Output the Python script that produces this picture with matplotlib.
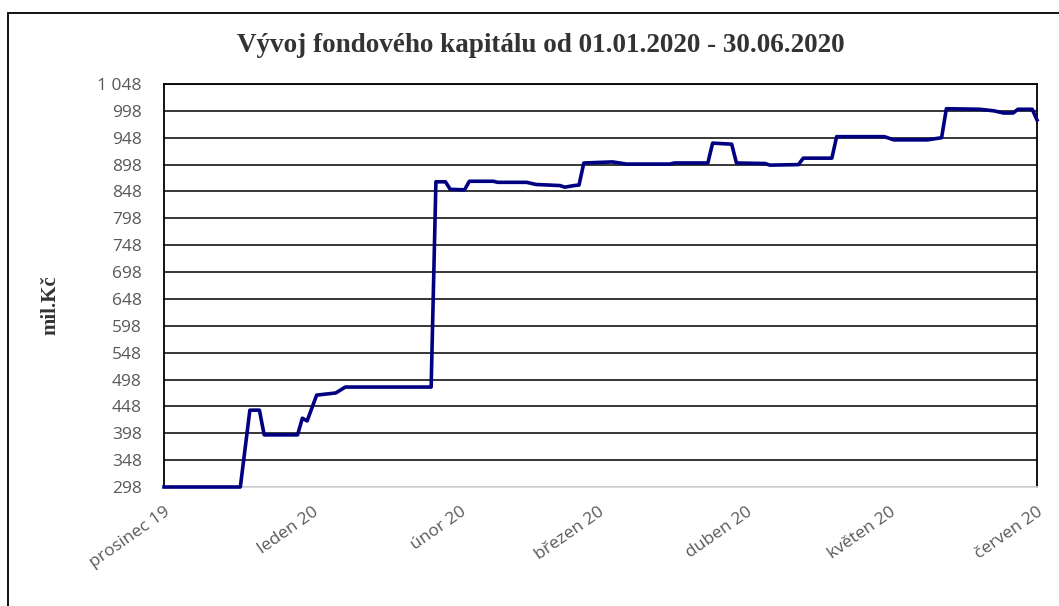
import datetime as dt
import matplotlib
matplotlib.use("Agg")
import matplotlib.pyplot as plt
from matplotlib.patches import Rectangle

# fund capital (mil. Kč), breakpoints of the daily series
dates = [
    "2019-12-01", "2019-12-17", "2019-12-19", "2019-12-21", "2019-12-22",
    "2019-12-29", "2019-12-30", "2019-12-31", "2020-01-02", "2020-01-06",
    "2020-01-08", "2020-01-26", "2020-01-27", "2020-01-29", "2020-01-30",
    "2020-02-02", "2020-02-03", "2020-02-08", "2020-02-09", "2020-02-15",
    "2020-02-17", "2020-02-22", "2020-02-23", "2020-02-25", "2020-02-26",
    "2020-02-27", "2020-03-04", "2020-03-07", "2020-03-16", "2020-03-17",
    "2020-03-24", "2020-03-25", "2020-03-29", "2020-03-30", "2020-04-05",
    "2020-04-06", "2020-04-12", "2020-04-13", "2020-04-19", "2020-04-20",
    "2020-04-30", "2020-05-02", "2020-05-09", "2020-05-12", "2020-05-13",
    "2020-05-20", "2020-05-23", "2020-05-25", "2020-05-27", "2020-05-28",
    "2020-05-31", "2020-06-01",
]
values = [
    298, 298, 441, 441, 395,
    395, 426, 421, 469, 473,
    484, 484, 866, 866, 852,
    851, 867, 867, 865, 865,
    861, 859, 856, 859, 860,
    901, 903, 899, 899, 901,
    901, 938, 936, 901, 900,
    897, 898, 910, 910, 950,
    950, 944, 944, 948, 1002,
    1001, 998, 994, 994, 1001,
    1001, 981,
]

month_ticks = ["2019-12-01", "2020-01-01", "2020-02-01", "2020-03-01",
               "2020-04-01", "2020-05-01", "2020-06-01"]
month_labels = ["prosinec 19", "leden 20", "únor 20", "březen 20",
                "duben 20", "květen 20", "červen 20"]
y_ticks = list(range(298, 1049, 50))
y_labels = [f"{v:,}".replace(",", " ") for v in y_ticks]

x = [dt.datetime.strptime(d, "%Y-%m-%d") for d in dates]
xt = [dt.datetime.strptime(d, "%Y-%m-%d") for d in month_ticks]

fig = plt.figure(figsize=(10.59, 6.06), dpi=100)
# outer chart frame (left and top edges visible)
fig.patches.append(Rectangle((8 / 1059, -0.1), 1.2, 1.1 - 13 / 606,
                             transform=fig.transFigure, fill=False,
                             edgecolor="black", linewidth=1.3))

ax = fig.add_axes([164 / 1059, 119 / 606, 873 / 1059, 403 / 606])

ax.plot(x, values, color="#000080", linewidth=2.6, solid_joinstyle="round",
        zorder=3, clip_on=False)

ax.set_ylim(298, 1048)
ax.set_yticks(y_ticks)
ax.set_yticklabels(y_labels)
ax.set_xlim(xt[0], xt[-1])
ax.set_xticks(xt)
ax.set_xticklabels(month_labels, rotation=35, ha="right", rotation_mode="anchor")

ax.grid(axis="y", color="black", linewidth=1.1)
ax.set_axisbelow(True)
ax.tick_params(length=0, labelsize=12.5, labelcolor="#595959")
ax.tick_params(axis="y", pad=16)
ax.tick_params(axis="x", pad=12)
for lab in ax.get_xticklabels() + ax.get_yticklabels():
    lab.set_family("Open Sans")

for side in ["left", "right", "top"]:
    ax.spines[side].set_color("black")
    ax.spines[side].set_linewidth(1.3)
ax.spines["bottom"].set_color("#d9d9d9")
ax.spines["bottom"].set_linewidth(1.3)

fig.text(541 / 1059, 1 - 45 / 606, "Vývoj fondového kapitálu od 01.01.2020 - 30.06.2020",
         ha="center", va="center", family="Liberation Serif", weight="bold",
         fontsize=19.5, color="#333333")
fig.text(50 / 1059, 1 - 305 / 606, "mil.Kč", rotation=90, ha="center", va="center",
         family="Liberation Serif", weight="bold", fontsize=15, color="#333333")

fig.savefig("out.png", dpi=100)
